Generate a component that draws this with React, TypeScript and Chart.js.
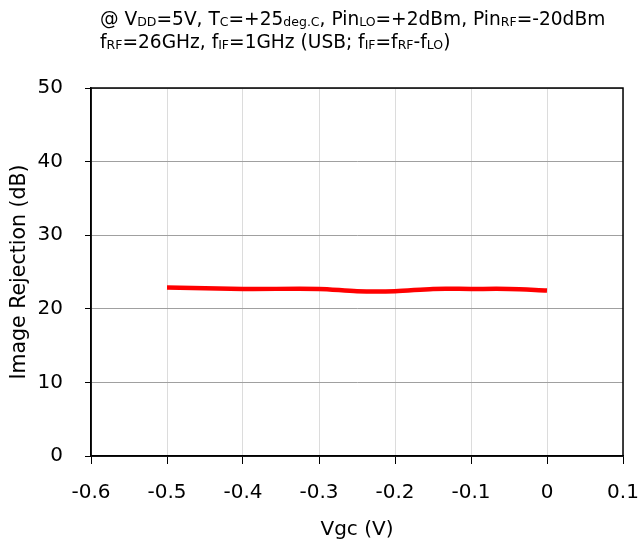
import React, { useEffect, useRef } from "react";
import { Chart, registerables } from "chart.js";

Chart.register(...registerables);

const vgcValues = [-0.5, -0.4, -0.3, -0.25, -0.2, -0.15, -0.1, -0.05, 0];
const imageRejection = [22.9, 22.7, 22.7, 22.4, 22.4, 22.7, 22.7, 22.7, 22.5];
const xTicks = [-0.6, -0.5, -0.4, -0.3, -0.2, -0.1, 0, 0.1];
const yTicks = [0, 10, 20, 30, 40, 50];

type Run = { t: string; sub?: boolean };
const titleLine1: Run[] = [
  { t: "@ V" }, { t: "DD", sub: true }, { t: "=5V, T" }, { t: "C", sub: true },
  { t: "=+25" }, { t: "deg.C", sub: true }, { t: ", Pin" }, { t: "LO", sub: true },
  { t: "=+2dBm, Pin" }, { t: "RF", sub: true }, { t: "=-20dBm" },
];
const titleLine2: Run[] = [
  { t: "f" }, { t: "RF", sub: true }, { t: "=26GHz, f" }, { t: "IF", sub: true },
  { t: "=1GHz (USB; f" }, { t: "IF", sub: true }, { t: "=f" }, { t: "RF", sub: true },
  { t: "-f" }, { t: "LO", sub: true }, { t: ")" },
];

const FONT = "'DejaVu Sans', sans-serif";

const titlePlugin = {
  id: "richTitle",
  afterDraw(chart: any) {
    const ctx = chart.ctx as CanvasRenderingContext2D;
    ctx.save();
    ctx.fillStyle = "#000";
    ctx.textBaseline = "alphabetic";
    const drawLine = (runs: Run[], x: number, y: number) => {
      let cx = x;
      for (const r of runs) {
        ctx.font = r.sub ? `12.5px ${FONT}` : `18.6px ${FONT}`;
        ctx.fillText(r.t, cx, r.sub ? y + 1 : y);
        cx += ctx.measureText(r.t).width;
      }
    };
    drawLine(titleLine1, 100, 25);
    drawLine(titleLine2, 100, 48);
    const a = chart.chartArea;
    ctx.strokeStyle = "#000";
    ctx.lineWidth = 1.5;
    ctx.strokeRect(a.left, a.top, a.right - a.left, a.bottom - a.top);
    ctx.restore();
  },
};

export default function App() {
  const ref = useRef<HTMLCanvasElement | null>(null);
  useEffect(() => {
    if (!ref.current) return;
    const chart = new Chart(ref.current, {
      type: "line",
      data: {
        datasets: [
          {
            label: "Image Rejection",
            data: vgcValues.map((x, i) => ({ x, y: imageRejection[i] })),
            borderColor: "#ff0000",
            backgroundColor: "#ff0000",
            borderWidth: 4.5,
            pointRadius: 0,
            tension: 0.3,
          },
        ],
      },
      options: {
        animation: false,
        responsive: true,
        maintainAspectRatio: false,
        layout: { padding: { top: 88, right: 18, bottom: 0, left: 0 } },
        plugins: { legend: { display: false }, tooltip: { enabled: false }, title: { display: false } },
        scales: {
          x: {
            type: "linear",
            min: xTicks[0],
            max: xTicks[xTicks.length - 1],
            afterBuildTicks: (s: any) => { s.ticks = xTicks.map((v) => ({ value: v })); },
            afterFit: (s: any) => { s.height = 89; s.paddingLeft = 0; s.paddingRight = 0; },
            ticks: {
              color: "#000",
              font: { family: FONT, size: 20 },
              padding: 17,
              maxRotation: 0,
              callback: (v: any) => (Math.abs(v) < 1e-9 ? "0" : Number(v).toFixed(1)),
            },
            grid: { color: "#dcdcdc", tickColor: "#000", tickLength: 8, lineWidth: 1 },
            border: { color: "#000", width: 1.5 },
            title: { display: true, text: "Vgc (V)", color: "#000", font: { family: FONT, size: 20 }, padding: { top: 0, bottom: 3 } },
          },
          y: {
            min: yTicks[0],
            max: yTicks[yTicks.length - 1],
            afterBuildTicks: (s: any) => { s.ticks = yTicks.map((v) => ({ value: v })); },
            afterFit: (s: any) => { s.width = 91; s.paddingTop = 0; s.paddingBottom = 0; },
            ticks: { color: "#000", font: { family: FONT, size: 20 }, padding: 22 },
            grid: { color: "#a0a0a0", tickColor: "#000", tickLength: 6, lineWidth: 1 },
            border: { color: "#000", width: 1.5 },
            title: { display: true, text: "Image Rejection (dB)", color: "#000", font: { family: FONT, size: 20.5 }, padding: { top: 7, bottom: 0 } },
          },
        },
      },
      plugins: [titlePlugin],
    } as any);
    return () => chart.destroy();
  }, []);
  return (
    <div style={{ position: "fixed", left: 0, top: 0, width: 641, height: 545, background: "#fff" }}>
      <canvas ref={ref} />
    </div>
  );
}
